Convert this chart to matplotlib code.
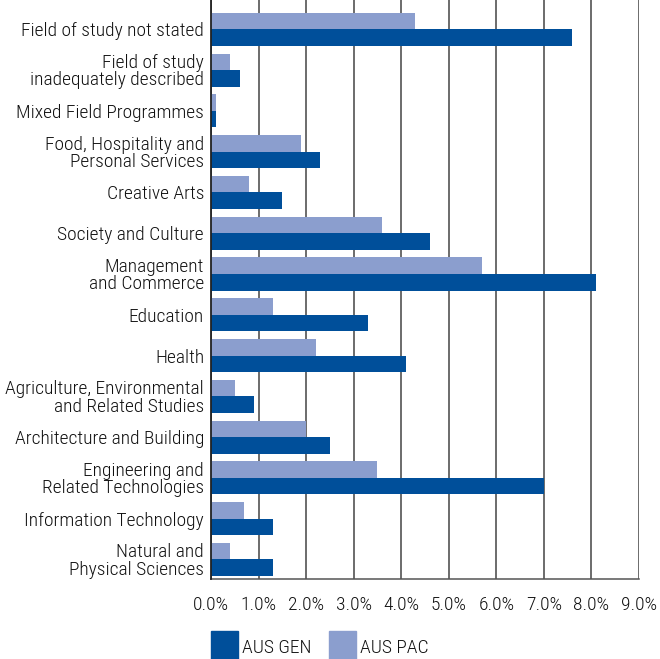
import numpy as np
import matplotlib
matplotlib.use("Agg")
import matplotlib.pyplot as plt
from matplotlib.ticker import FuncFormatter
from matplotlib.patches import Patch

# categories from top to bottom
categories = [
    "Field of study not stated",
    "Field of study\ninadequately described",
    "Mixed Field Programmes",
    "Food, Hospitality and\nPersonal Services",
    "Creative Arts",
    "Society and Culture",
    "Management\nand Commerce",
    "Education",
    "Health",
    "Agriculture, Environmental\nand Related Studies",
    "Architecture and Building",
    "Engineering and\nRelated Technologies",
    "Information Technology",
    "Natural and\nPhysical Sciences",
]
aus_gen = [7.6, 0.6, 0.1, 2.3, 1.5, 4.6, 8.1, 3.3, 4.1, 0.9, 2.5, 7.0, 1.3, 1.3]
aus_pac = [4.3, 0.4, 0.1, 1.9, 0.8, 3.6, 5.7, 1.3, 2.2, 0.5, 2.0, 3.5, 0.7, 0.4]
x_ticks = [0, 1, 2, 3, 4, 5, 6, 7, 8, 9]

gen_color = "#004f9a"
pac_color = "#8b9ece"

plt.rcParams["font.family"] = ["Roboto Condensed", "DejaVu Sans"]
plt.rcParams["font.weight"] = 300
plt.rcParams["font.size"] = 14

fig = plt.figure(figsize=(6.6, 6.59), dpi=100)
ax = fig.add_axes([211 / 660, 80 / 659, 428 / 660, 579 / 659])

y = np.arange(len(categories))
h = 0.405
ax.barh(y - h / 2, aus_pac, height=h, color=pac_color, zorder=3)
ax.barh(y + h / 2, aus_gen, height=h, color=gen_color, zorder=3)

ax.set_xlim(0, 9)
ax.set_ylim(len(categories) - 1 + 0.48, -0.72)
ax.set_xticks(x_ticks)
ax.xaxis.set_major_formatter(FuncFormatter(lambda v, p: f"{v:.1f}%"))
ax.set_yticks(y)
ax.set_yticklabels(categories, color="#111111", linespacing=0.95, fontsize=14)
ax.tick_params(axis="y", length=0, pad=5)
ax.tick_params(axis="x", length=0, pad=12, colors="#111111", labelsize=14)

# vertical gridlines
ax.grid(axis="x", color="#444444", linewidth=1.1, zorder=1)
ax.grid(axis="y", visible=False)

for s in ["top", "right"]:
    ax.spines[s].set_visible(False)
ax.spines["left"].set_color("#222222")
ax.spines["left"].set_linewidth(1.3)
ax.spines["left"].set_zorder(4)
ax.spines["bottom"].set_color("#555555")
ax.spines["bottom"].set_linewidth(1.1)

handles = [Patch(color=gen_color, label="AUS GEN"), Patch(color=pac_color, label="AUS PAC")]
fig.legend(handles=handles, loc="center left", bbox_to_anchor=(211 / 660, 12 / 659),
           ncol=2, frameon=False, handlelength=1.4, handleheight=2.1,
           handletextpad=0.2, columnspacing=0.9, borderpad=0, borderaxespad=0,
           fontsize=14, labelcolor="#111111")

fig.savefig("out.png", dpi=100)
